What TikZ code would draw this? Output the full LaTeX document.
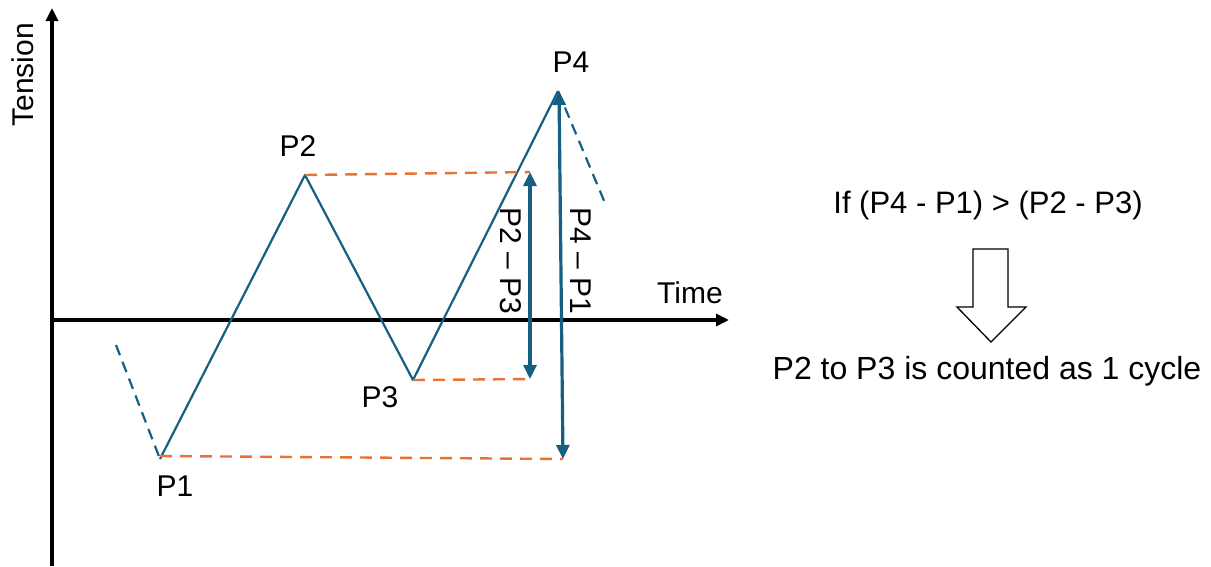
\documentclass[tikz,border=0pt]{standalone}
\usepackage{fontspec}
\setmainfont{Liberation Sans}
\usetikzlibrary{arrows.meta}
\definecolor{curveblue}{HTML}{156082}
\definecolor{dashorange}{HTML}{E97132}
\begin{document}
\begin{tikzpicture}[x=1pt,y=-1pt,
  axis/.style={line width=3.2pt,-{Triangle[length=13pt,width=12pt]}},
  curve/.style={curveblue,line width=2.2pt,line join=round},
  bluedash/.style={curveblue,line width=2.2pt,dash pattern=on 11pt off 7pt},
  orangedash/.style={dashorange,line width=2.4pt,dash pattern=on 12pt off 8pt},
  rangearrow/.style={curveblue,line width=3.2pt,{Triangle[length=14pt,width=13pt]}-{Triangle[length=14pt,width=13pt]}},
  lbl/.style={font=\fontsize{30}{36}\selectfont,inner sep=0pt},
  bigtxt/.style={font=\fontsize{31}{37}\selectfont,inner sep=0pt}]
\useasboundingbox (0,0) rectangle (1211,566);
% axes
\coordinate (ybot) at (52,566);
\coordinate (ytop) at (52,8);
\coordinate (xl) at (52,320);
\coordinate (xr) at (729,320);
\draw[axis] (ybot) -- (ytop);
\draw[axis] (xl) -- (xr);
\node[lbl,rotate=90] (tension) at (23,75) {Tension};
\node[lbl] (time) at (690,293) {Time};
% points
\coordinate (P1) at (160,459);
\coordinate (P2) at (305,175);
\coordinate (P3) at (413,380);
\coordinate (P4) at (558,91);
\coordinate (d1) at (116,345);
\coordinate (d4) at (605,203);
\draw[curve] (P1) -- (P2) -- (P3) -- (P4);
\draw[bluedash] (d1) -- (P1);
\draw[bluedash] (P4) -- (d4);
% orange dashed
\coordinate (o2) at (530,172);
\coordinate (o3) at (530,379);
\coordinate (o1) at (563,459);
\draw[orangedash] (P2) -- (o2);
\draw[orangedash] (P3) -- (o3);
\draw[orangedash] ([yshift=3pt]P1) -- (o1);
% range arrows
\coordinate (a23t) at (530,172);
\coordinate (a23b) at (530,379);
\coordinate (a41t) at (559,91);
\coordinate (a41b) at (563,459);
\draw[rangearrow] (a23b) -- (a23t);
\draw[rangearrow] (a41b) -- (a41t);
\node[lbl,rotate=-90] (l23) at (511,261) {P2 – P3};
\node[lbl,rotate=-90] (l41) at (581,261) {P4 – P1};
% point labels
\node[lbl] (n1) at (175,486) {P1};
\node[lbl] (n2) at (298,146) {P2};
\node[lbl] (n3) at (380,397) {P3};
\node[lbl] (n4) at (571,62) {P4};
% right text
\node[bigtxt] (cond) at (988,205) {If (P4 - P1) > (P2 - P3)};
\node[font=\fontsize{32}{38}\selectfont,inner sep=0pt] (res) at (987,371) {P2 to P3 is counted as 1 cycle};
\draw[line width=1.3pt,fill=white,line join=miter]
  (973,249) -- (1008,249) -- (1008,307) -- (1026,307) -- (991,342)
  -- (957,307) -- (973,307) -- cycle;
\end{tikzpicture}
\end{document}
